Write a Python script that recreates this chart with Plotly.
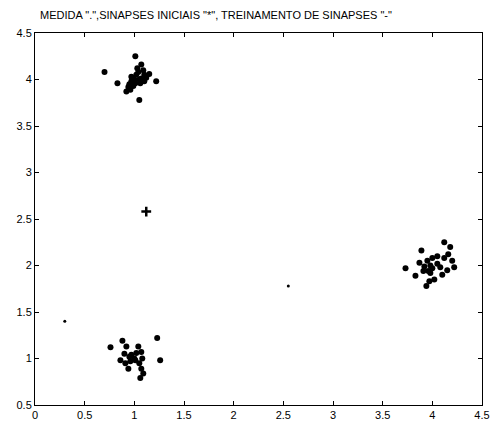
import plotly.graph_objects as go

# cluster 1 (top, near (1, 4))
c1_x = [0.70, 1.01, 1.07, 0.83, 1.15, 1.22, 1.05, 0.97, 1.02, 1.07, 1.10, 0.94, 0.92, 0.96,
        1.01, 1.06, 1.10, 0.97, 1.03, 1.12, 0.99, 1.05, 0.95, 1.09, 1.04, 1.00]
c1_y = [4.08, 4.25, 4.16, 3.96, 4.06, 3.98, 3.78, 4.03, 4.05, 4.01, 3.98, 3.92, 3.87, 3.89,
        3.96, 3.96, 4.05, 3.98, 4.12, 4.02, 3.93, 4.00, 3.95, 4.10, 4.08, 4.00]
# cluster 2 (right, near (4, 2))
c2_x = [3.73, 3.89, 3.83, 3.94, 3.97, 3.87, 3.92, 3.96, 3.91, 4.12, 4.18, 4.05, 4.20, 4.15,
        4.10, 4.02, 3.98, 4.00, 4.05, 3.95, 4.00, 4.08, 4.12, 3.98, 4.16, 4.22]
c2_y = [1.97, 2.16, 1.89, 1.78, 1.83, 2.03, 1.99, 1.94, 1.94, 2.25, 2.20, 2.10, 2.05, 1.95,
        1.90, 1.85, 2.00, 1.97, 2.02, 2.05, 2.08, 1.98, 2.08, 1.92, 2.12, 1.98]
# cluster 3 (bottom, near (1, 1))
c3_x = [0.76, 1.23, 1.26, 0.88, 0.92, 1.04, 1.02, 1.07, 0.86, 0.91, 0.96, 1.01, 0.94, 1.07,
        1.09, 1.06, 0.97, 1.00, 0.95, 1.05, 1.08, 0.90]
c3_y = [1.12, 1.22, 0.98, 1.19, 1.13, 1.13, 1.06, 1.07, 0.98, 0.95, 0.97, 0.98, 0.89, 0.89,
        0.84, 0.79, 1.04, 1.00, 1.02, 0.95, 1.00, 1.05]
# initial synapse (star) and trained synapses (small points)
star_x = [1.12]
star_y = [2.58]
small_x = [0.30, 2.55]
small_y = [1.40, 1.78]

xticks = [0, 0.5, 1, 1.5, 2, 2.5, 3, 3.5, 4, 4.5]
yticks = [0.5, 1, 1.5, 2, 2.5, 3, 3.5, 4, 4.5]

fig = go.Figure()
for xs, ys in [(c1_x, c1_y), (c2_x, c2_y), (c3_x, c3_y)]:
    fig.add_trace(go.Scatter(x=xs, y=ys, mode="markers",
                             marker=dict(color="black", size=6), showlegend=False))
fig.add_trace(go.Scatter(x=star_x, y=star_y, mode="markers",
                         marker=dict(color="black", size=7, symbol="cross-thin",
                                     line=dict(color="black", width=2.5)), showlegend=False))
fig.add_trace(go.Scatter(x=small_x, y=small_y, mode="markers",
                         marker=dict(color="black", size=3), showlegend=False))

axis_common = dict(showgrid=False, zeroline=False, showline=True, linecolor="black",
                   linewidth=1, mirror="ticks", ticks="inside", ticklen=4, tickcolor="black",
                   tickfont=dict(family="Liberation Sans, Arial", size=11, color="black"))
fig.update_xaxes(range=[0, 4.5], tickvals=xticks, ticktext=[str(t) for t in xticks], **axis_common)
fig.update_yaxes(range=[0.5, 4.5], tickvals=yticks, ticktext=[str(t) for t in yticks], **axis_common)

fig.update_layout(
    width=498, height=429,
    margin=dict(l=35, r=8, t=33, b=24),
    paper_bgcolor="white", plot_bgcolor="white",
    title=dict(text='MEDIDA ".",SINAPSES INICIAIS "*", TREINAMENTO DE SINAPSES "-"',
               x=40 / 498, xanchor="left", y=1 - 15 / 429, yanchor="middle",
               font=dict(family="Liberation Sans Narrow, Liberation Sans, Arial", size=11, color="black")),
)
fig.write_html("out.html")
